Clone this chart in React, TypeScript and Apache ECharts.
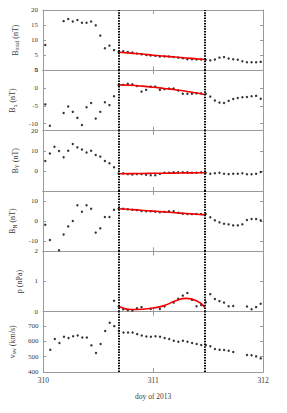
import React, { useEffect, useRef } from "react";
import * as echarts from "echarts";

// hourly samples, hour index 0..47 starting at doy 310.0
const btotal = [8.4, null, null, null, 16.3, 17.0, 16.2, 16.7, 15.8, 15.8, 16.2, 14.9, 11.5, 7.3, 8.2, 6.7, 6.1, 6.3, 6.1, 5.9, 5.6, 5.3, 5.1, 4.9, 4.8, 4.6, 4.6, 4.6, 4.4, 4.2, 4.0, 3.7, 3.7, 3.6, 3.6, 3.5, 3.3, 3.6, 4.2, 4.4, 3.9, 3.7, 3.5, 3.0, 2.7, 2.7, 2.7, 2.8];
const bx = [-4.6, -10.6, null, null, -7.0, -5.2, -6.7, -8.4, -10.4, -5.4, -4.2, -8.6, -6.7, -4.0, -4.8, -2.3, 0.9, 0.9, 1.2, 1.1, 0.6, -1.0, -0.5, 0.4, 0.4, -0.5, -0.3, -0.1, -0.1, -0.7, -1.6, -1.6, -1.6, -1.5, -1.5, -1.6, -2.4, -3.5, -4.1, -4.2, -3.6, -3.1, -2.8, -2.6, -2.5, -2.3, -2.2, -3.0];
const by = [4.9, 8.6, 12.0, 9.9, 6.8, 10.0, 13.4, 11.7, 10.6, 9.1, 10.0, 7.9, 7.1, 4.9, 3.8, 1.8, -1.3, -1.2, -1.6, -1.8, -1.6, -1.6, -1.9, -2.2, -2.2, -1.5, -0.9, -0.9, -0.7, -0.7, -0.7, -0.7, -0.9, -0.9, -0.7, -0.9, -1.4, -1.2, -0.9, -1.4, -1.6, -1.4, -1.4, -1.2, -1.7, -1.7, -1.4, -0.6];
const bn = [-1.8, -9.4, null, -14.5, -6.6, -2.6, 0.1, 7.9, 4.7, 7.9, 6.2, -5.7, -3.6, 2.1, 2.1, 5.7, 6.2, 6.2, 5.9, 5.7, 5.5, 5.0, 4.9, 4.9, 4.7, 4.4, 4.6, 4.9, 4.9, 4.2, 3.7, 3.5, 3.5, 3.6, 3.6, 3.6, 1.9, 0.4, -0.6, -1.3, -1.6, -2.1, -2.1, -1.6, 0.6, 1.1, 1.1, 0.4];
const pressure = [null, null, null, null, null, null, null, null, null, null, null, null, null, null, null, 0.36, 0.17, 0.08, 0.05, 0.04, 0.11, 0.15, null, 0.09, null, 0.09, 0.17, null, 0.3, 0.43, 0.53, 0.62, 0.39, 0.18, 0.22, 0.31, 0.58, 0.42, 0.35, 0.3, 0.18, 0.19, null, null, 0.17, 0.08, 0.15, 0.26];
const vsw = [null, 546, 616, 590, 631, 622, 634, 639, 626, 626, 574, 524, 583, 668, 722, 700, 670, 659, 659, 659, 648, 639, 632, 631, 634, 631, 622, 616, 605, 598, 605, 598, 590, 583, 577, 577, 568, 550, 546, 544, 539, 531, null, null, 511, 509, 502, 489];

// fitted curves inside the event interval
const fitT = [310.69, 310.8, 310.9, 311.0, 311.1, 311.2, 311.3, 311.4, 311.47];
const fitBtotal = [6.0, 5.7, 5.4, 5.0, 4.7, 4.4, 4.1, 3.8, 3.6];
const fitBx = [0.9, 0.8, 0.55, 0.25, -0.1, -0.45, -0.9, -1.4, -1.8];
const fitBy = [-1.4, -1.35, -1.3, -1.2, -1.15, -1.1, -1.0, -0.95, -0.9];
const fitBn = [6.2, 5.8, 5.4, 5.0, 4.6, 4.2, 3.8, 3.4, 3.1];
const fitP = [0.17, 0.07, 0.08, 0.12, 0.2, 0.35, 0.44, 0.35, 0.15];

const eventBounds = [310.69, 311.47];
const xTicks = [310, 311, 312];

const btotalTicks = [0, 5, 10, 15, 20];
const bxTicks = [5, 0, -5, -10];
const byTicks = [20, 10, 0];
const bnTicks = [10, 0, -10];
const pTicks = [0, 1, 2];
const vTicks = [400, 500, 600, 700];

const FONT = "Liberation Serif, Times New Roman, serif";
const GRAY = "#9a9a9a";
const TXT = "#3a3a3a";

const hourToDay = (h: number) => 310 + (h + 0.5) / 24;

export default function App() {
  const ref = useRef<HTMLDivElement>(null);
  useEffect(() => {
    if (!ref.current) return;
    const chart = echarts.init(ref.current, undefined, { renderer: "svg" });

    const rich = {
      m: { fontSize: 8, fontFamily: FONT, color: TXT, lineHeight: 10, verticalAlign: "middle" },
      s: { fontSize: 5.5, fontFamily: FONT, color: TXT, lineHeight: 6, verticalAlign: "bottom" },
    };

    const panels = [
      { vals: btotal, fit: fitBtotal, min: 0, max: 20, ticks: btotalTicks, gap: 17.5, name: "{m|B}{s|total}{m| (nT)}" },
      { vals: bx, fit: fitBx, min: -12, max: 5, ticks: bxTicks, gap: 20.5, name: "{m|B}{s|x}{m| (nT)}" },
      { vals: by, fit: fitBy, min: -10, max: 20, ticks: byTicks, gap: 19.5, name: "{m|B}{s|Y}{m| (nT)}" },
      { vals: bn, fit: fitBn, min: -15, max: 15, ticks: bnTicks, gap: 21, name: "{m|B}{s|N}{m| (nT)}" },
      { vals: pressure, fit: fitP, min: 0, max: 2, ticks: pTicks, gap: 9, name: "{m|p (nPa)}" },
      { vals: vsw, fit: null as number[] | null, min: 400, max: 795, ticks: vTicks, gap: 20.5, name: "{m|v}{s|sw}{m| (km/s)}" },
    ];

    const top0 = 10;
    const ph = 60.33;
    const grid: any[] = [];
    const xAxis: any[] = [];
    const yAxis: any[] = [];
    const series: any[] = [];

    panels.forEach((p, i) => {
      grid.push({ left: 43, right: 24, top: top0 + i * ph, height: ph });
      const last = i === panels.length - 1;
      xAxis.push({
        type: "value", gridIndex: i, min: 310, max: 312, interval: 1, position: "bottom",
        axisLine: { onZero: false, lineStyle: { color: GRAY, width: 1 } },
        axisTick: { inside: true, length: 4, lineStyle: { color: GRAY } },
        axisLabel: { show: last, fontSize: 7.5, fontFamily: FONT, color: TXT, margin: 5,
          customValues: xTicks },
        splitLine: { show: false },
        name: last ? "doy of 2013" : "",
        nameLocation: "middle", nameGap: 21,
        nameTextStyle: { fontSize: 7.5, fontFamily: FONT, color: TXT },
      });
      xAxis.push({
        type: "value", gridIndex: i, min: 310, max: 312, interval: 1, position: "top",
        axisLine: { onZero: false, lineStyle: { color: GRAY, width: 1 } },
        axisTick: { inside: true, length: 4, lineStyle: { color: GRAY } },
        axisLabel: { show: false },
        splitLine: { show: false },
      });
      yAxis.push({
        type: "value", gridIndex: i, min: p.min, max: p.max, position: "left",
        axisLine: { show: true, onZero: false, lineStyle: { color: GRAY } },
        axisTick: { show: true, inside: true, length: 3, lineStyle: { color: GRAY }, customValues: p.ticks },
        axisLabel: { fontSize: 7, fontFamily: FONT, color: TXT, margin: 5, customValues: p.ticks },
        splitLine: { show: false },
        name: p.name, nameLocation: "middle", nameRotate: 90, nameGap: p.gap,
        nameTextStyle: { rich },
      });
      yAxis.push({
        type: "value", gridIndex: i, min: p.min, max: p.max, position: "right",
        axisLine: { show: true, onZero: false, lineStyle: { color: GRAY } },
        axisTick: { show: true, inside: true, length: 3, lineStyle: { color: GRAY }, customValues: p.ticks },
        axisLabel: { show: false },
        splitLine: { show: false },
      });
      const pts = p.vals
        .map((v, h) => (v == null ? null : [hourToDay(h), v]))
        .filter((d) => d != null);
      series.push({
        type: "scatter", xAxisIndex: 2 * i, yAxisIndex: 2 * i, data: pts,
        symbol: "circle", symbolSize: 2.4, itemStyle: { color: "#000" }, z: 3,
        markLine: {
          silent: true, symbol: "none", label: { show: false },
          lineStyle: { type: [1.5, 1.2], color: "#000", width: 2 },
          data: eventBounds.map((b) => ({ xAxis: b })),
        },
      });
      if (p.fit) {
        series.push({
          type: "line", xAxisIndex: 2 * i, yAxisIndex: 2 * i,
          data: fitT.map((t, k) => [t, p.fit![k]]),
          smooth: 0.5, showSymbol: false, symbol: "none",
          lineStyle: { color: "#f00000", width: 1.6 }, z: 4,
        });
      }
    });

    chart.setOption({ animation: false, grid, xAxis, yAxis, series });
    return () => chart.dispose();
  }, []);
  return (
    <div
      ref={ref}
      style={{ position: "absolute", left: 0, top: 0, width: 287, height: 413, background: "#fff" }}
    />
  );
}
